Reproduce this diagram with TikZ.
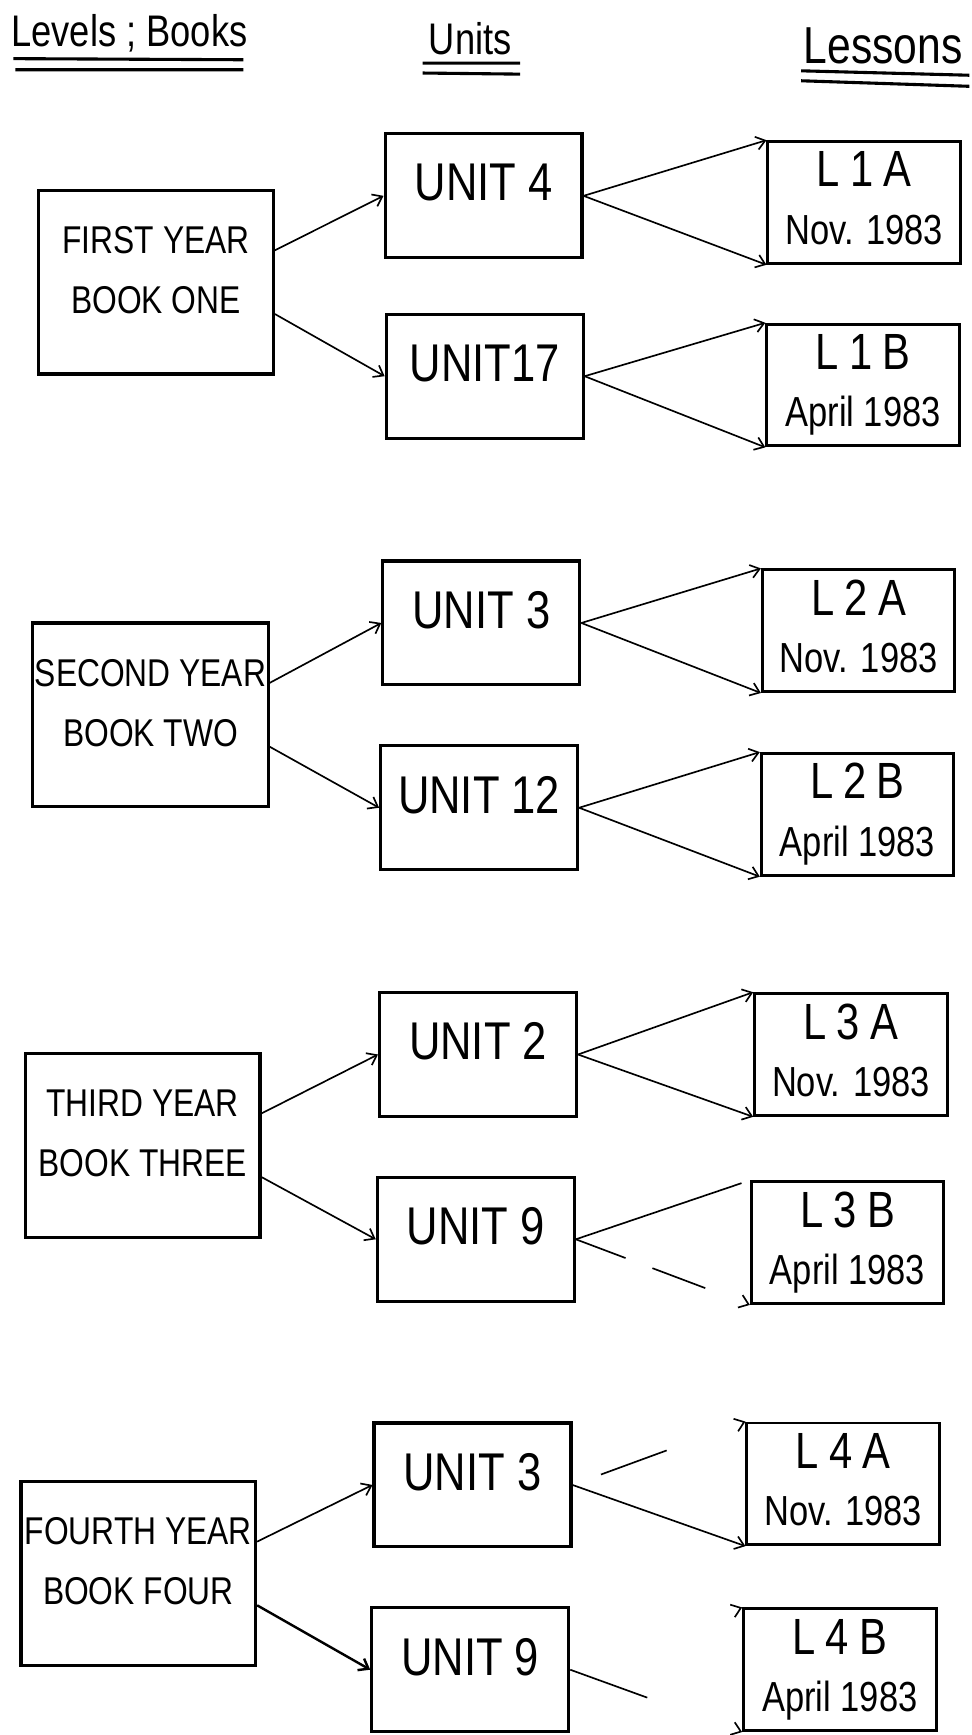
\documentclass[tikz,border=0pt]{standalone}
\usepackage{fontspec}
\setmainfont{Liberation Sans}[FakeStretch=0.82]
\usetikzlibrary{arrows.meta}
\newcommand{\lcode}[1]{{\fontsize{23}{26}\selectfont\addfontfeature{LetterSpace=20}#1}}
\tikzset{
  heading/.style={font=\fontsize{20}{24}\selectfont},
  bookbox/.style={draw, line width=1.4pt, minimum width=106pt, minimum height=83pt,
    inner sep=1pt, align=center, text depth=11pt, font=\fontsize{17.5}{27}\selectfont},
  unitbox/.style={draw, line width=1.4pt, minimum width=89pt, minimum height=56pt,
    inner sep=1pt, text depth=12pt, font=\fontsize{24}{26}\selectfont},
  lessonbox/.style={draw, line width=1.3pt, minimum width=87pt, minimum height=55pt,
    inner sep=1pt, align=center, text depth=4pt, font=\fontsize{19}{26}\selectfont},
  link/.style={line width=0.75pt, -{Straight Barb[length=4pt,width=6pt]}},
}
\begin{document}
\begin{tikzpicture}[x=0.5pt, y=-0.5pt]
  \useasboundingbox (0,0) rectangle (878,1568);
  % column headings
  \node[heading] (hlevel) at (117,30) {Levels ; Books};
  \node[heading] (hunit) at (425,35) {Units};
  \node[heading, font=\fontsize{23.5}{24}\selectfont] (hlesson) at (798,41) {Lessons};
  \draw[line width=1.4pt] (12,53) -- (220,54) (14,63) -- (220,63);
  \draw[line width=1.4pt] (382,57) -- (470,57) (382,66) -- (470,67);
  \draw[line width=1.4pt] (724,64) -- (876,68) (724,73) -- (876,78);
  % first year
  \node[bookbox] (book1) at (141,255) {FIRST YEAR\\BOOK ONE};
  \node[unitbox] (unit1a) at (437,177) {UNIT 4};
  \node[unitbox] (unit1b) at (438,340) {UNIT17};
  \node[lessonbox] (les1a) at (781,183) {\lcode{L1A}\\Nov. 1983};
  \node[lessonbox] (les1b) at (780,348) {\lcode{L1B}\\April 1983};
  \draw[link] (book1.15) -- (unit1a.west);
  \draw[link] (book1.-15) -- (unit1b.west);
  \draw[link] (unit1a.east) -- (les1a.north west);
  \draw[link] (unit1a.east) -- (les1a.south west);
  \draw[link] (unit1b.east) -- (les1b.north west);
  \draw[link] (unit1b.east) -- (les1b.south west);
  % second year
  \node[bookbox] (book2) at (136,646) {SECOND YEAR\\BOOK TWO};
  \node[unitbox] (unit2a) at (435,563) {UNIT 3};
  \node[unitbox] (unit2b) at (433,730) {UNIT 12};
  \node[lessonbox] (les2a) at (776,570) {\lcode{L2A}\\Nov. 1983};
  \node[lessonbox] (les2b) at (775,736) {\lcode{L2B}\\April 1983};
  \draw[link] (book2.15) -- (unit2a.west);
  \draw[link] (book2.-15) -- (unit2b.west);
  \draw[link] (unit2a.east) -- (les2a.north west);
  \draw[link] (unit2a.east) -- (les2a.south west);
  \draw[link] (unit2b.east) -- (les2b.north west);
  \draw[link] (unit2b.east) -- (les2b.south west);
  % third year
  \node[bookbox] (book3) at (129,1035) {THIRD YEAR\\BOOK THREE};
  \node[unitbox] (unit3a) at (432,953) {UNIT 2};
  \node[unitbox] (unit3b) at (430,1120) {UNIT 9};
  \node[lessonbox] (les3a) at (769,953) {\lcode{L3A}\\Nov. 1983};
  \node[lessonbox] (les3b) at (766,1123) {\lcode{L3B}\\April 1983};
  \draw[link] (book3.15) -- (unit3a.west);
  \draw[link] (book3.-15) -- (unit3b.west);
  \draw[link] (unit3a.east) -- (les3a.north west);
  \draw[link] (unit3a.east) -- (les3a.south west);
  \draw[line width=0.75pt, shorten >=4pt] (unit3b.east) -- (les3b.north west);
  \draw[link, dash pattern=on 24pt off 13pt on 25.5pt off 40pt] (unit3b.east) -- (les3b.south west);
  % fourth year
  \node[bookbox] (book4) at (125,1422) {FOURTH YEAR\\BOOK FOUR};
  \node[unitbox] (unit4a) at (427,1342) {UNIT 3};
  \node[unitbox] (unit4b) at (425,1509) {UNIT 9};
  \node[lessonbox] (les4a) at (762,1341) {\lcode{L4A}\\Nov. 1983};
  \node[lessonbox] (les4b) at (759,1509) {\lcode{L4B}\\April 1983};
  \draw[link] (book4.15) -- (unit4a.west);
  \draw[link, line width=1.1pt] (book4.-15) -- (unit4b.west);
  \draw[link, dash pattern=on 0pt off 13.7pt on 31.6pt off 60pt] (unit4a.east) -- (les4a.north west);
  \draw[link] (unit4a.east) -- (les4a.south west);
  \draw[link, dash pattern=on 0pt off 100pt] (unit4b.east) -- (les4b.north west);
  \draw[link, dash pattern=on 37pt off 100pt] (unit4b.east) -- (les4b.south west);
\end{tikzpicture}
\end{document}
